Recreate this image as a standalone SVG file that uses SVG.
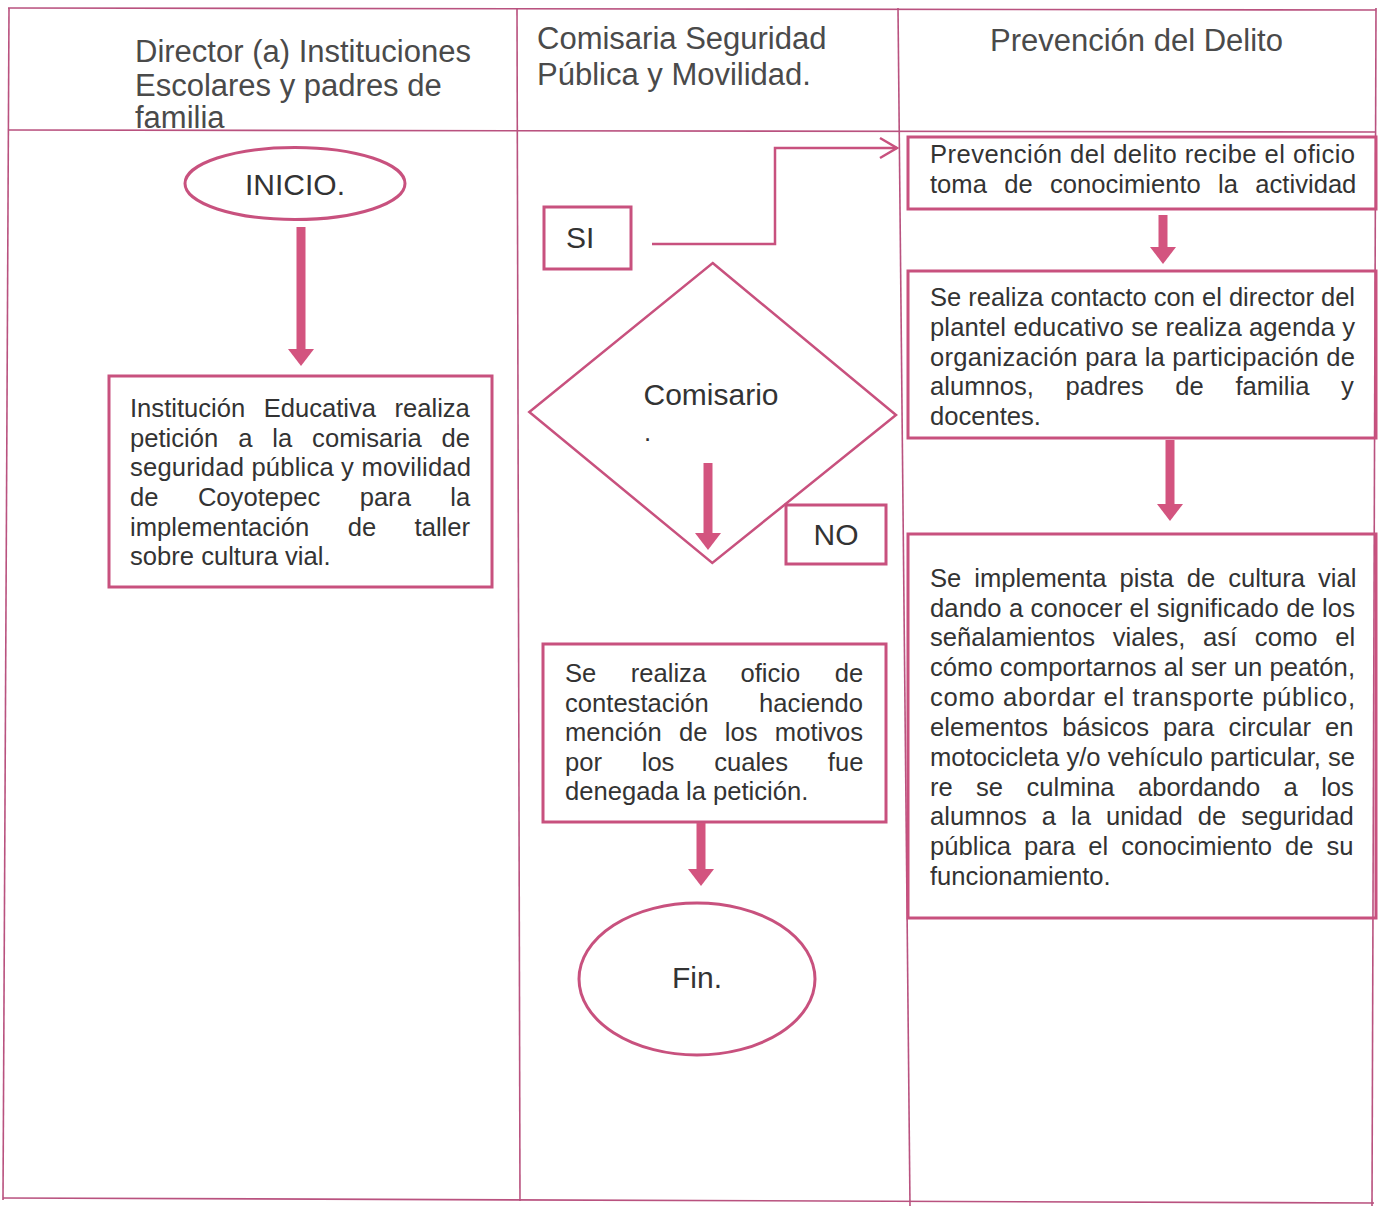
<svg xmlns="http://www.w3.org/2000/svg" width="1379" height="1211" viewBox="0 0 1379 1211">
<style>
.grid{stroke:#b9527f;stroke-width:1.6;fill:none}
.box{fill:none;stroke:#c8517e;stroke-width:3}
.thin{fill:none;stroke:#c8517e;stroke-width:2.5}
.thick{stroke:#d3547f;stroke-width:9;fill:none}
.hd{font-family:"Liberation Sans",Arial,sans-serif;font-size:31px;fill:#4a4a4a}
.t{font-family:"Liberation Sans",Arial,sans-serif;font-size:25.6px;fill:#333}
.lbl{font-family:"Liberation Sans",Arial,sans-serif;font-size:30px;fill:#333}
</style>
<defs>
<marker id="head" markerUnits="userSpaceOnUse" markerWidth="18" markerHeight="26" viewBox="0 0 18 26" refX="1" refY="13" orient="auto" overflow="visible">
<path d="M0,0 L17,13 L0,26 z" fill="#d3547f"/>
</marker>
<marker id="open" markerUnits="userSpaceOnUse" markerWidth="20" markerHeight="22" viewBox="0 0 20 22" refX="18" refY="11" orient="auto" overflow="visible">
<path d="M1,1 L18,11 L1,21" fill="none" stroke="#c8517e" stroke-width="2.5"/>
</marker>
</defs>
<rect x="0" y="0" width="1379" height="1211" fill="#ffffff"/>
<g id="table">
<line class="grid" x1="8" y1="8" x2="1376" y2="10"/>
<line class="grid" x1="8" y1="130" x2="1376" y2="132"/>
<line class="grid" x1="3" y1="1198" x2="1374" y2="1203"/>
<line class="grid" x1="9" y1="8" x2="3" y2="1200"/>
<line class="grid" x1="517" y1="8" x2="520" y2="1201"/>
<line class="grid" x1="898" y1="8" x2="910" y2="1206"/>
<line class="grid" x1="1376" y1="8" x2="1372" y2="1206"/>
</g>
<g id="headers">
<text class="hd" x="135" y="62">Director (a) Instituciones</text>
<text class="hd" x="135" y="96">Escolares y padres de</text>
<text class="hd" x="135" y="128">familia</text>
<text class="hd" x="537" y="49">Comisaria Seguridad</text>
<text class="hd" x="537" y="85">Pública y Movilidad.</text>
<text class="hd" x="990" y="51">Prevención del Delito</text>
</g>
<g id="inicio">
<ellipse class="box" cx="295" cy="183.5" rx="110" ry="36"/>
<text class="lbl" x="295" y="195" text-anchor="middle">INICIO.</text>
</g>
<g id="peticion">
<rect class="box" x="109" y="376" width="383" height="211"/>
<text class="t" x="130" y="417" word-spacing="11.3">Institución Educativa realiza</text>
<text class="t" x="130" y="446.7" word-spacing="12.8">petición a la comisaria de</text>
<text class="t" x="130" y="476.3" textLength="341" lengthAdjust="spacing">seguridad pública y movilidad</text>
<text class="t" x="130" y="506" word-spacing="32.3">de Coyotepec para la</text>
<text class="t" x="130" y="535.7" word-spacing="31.3">implementación de taller</text>
<text class="t" x="130" y="565.3">sobre cultura vial.</text>
</g>
<g id="si">
<rect class="box" x="544" y="207" width="87" height="62"/>
<text class="lbl" x="566" y="248" font-size="28">SI</text>
</g>
<g id="comisario">
<polygon class="thin" points="712.7,263 896,415 712.3,563 529.3,412"/>
<text class="lbl" x="711" y="405" text-anchor="middle">Comisario</text>
<text class="t" x="644" y="441" font-size="18">.</text>
</g>
<g id="no">
<rect class="box" x="786" y="505" width="100" height="59"/>
<text class="lbl" x="836" y="545" text-anchor="middle">NO</text>
</g>
<g id="oficio">
<rect class="box" x="543" y="644" width="343" height="178"/>
<text class="t" x="565" y="682" word-spacing="27.3">Se realiza oficio de</text>
<text class="t" x="565" y="711.5" word-spacing="43.3">contestación haciendo</text>
<text class="t" x="565" y="741" word-spacing="10.2">mención de los motivos</text>
<text class="t" x="565" y="770.5" word-spacing="32.6">por los cuales fue</text>
<text class="t" x="565" y="800">denegada la petición.</text>
</g>
<g id="fin">
<ellipse class="box" cx="697" cy="979" rx="118" ry="76"/>
<text class="lbl" x="697" y="988" text-anchor="middle" font-size="29">Fin.</text>
</g>
<g id="recibe">
<rect class="box" x="908" y="137" width="468" height="72"/>
<text class="t" x="930" y="163.3" textLength="425" lengthAdjust="spacing">Prevención del delito recibe el oficio</text>
<text class="t" x="930" y="192.7" word-spacing="10.2">toma de conocimiento la actividad</text>
</g>
<g id="contacto">
<rect class="box" x="908" y="271" width="468" height="167"/>
<text class="t" x="930" y="306" textLength="425" lengthAdjust="spacingAndGlyphs">Se realiza contacto con el director del</text>
<text class="t" x="930" y="335.75" textLength="425" lengthAdjust="spacing">plantel educativo se realiza agenda y</text>
<text class="t" x="930" y="365.5" textLength="425" lengthAdjust="spacing">organización para la participación de</text>
<text class="t" x="930" y="395.25" word-spacing="24.5">alumnos, padres de familia y</text>
<text class="t" x="930" y="425">docentes.</text>
</g>
<g id="pista">
<rect class="box" x="908" y="534" width="468" height="384"/>
<text class="t" x="930" y="586.7" word-spacing="5.9">Se implementa pista de cultura vial</text>
<text class="t" x="930" y="616.5" textLength="425" lengthAdjust="spacing">dando a conocer el significado de los</text>
<text class="t" x="930" y="646.4" word-spacing="10.6">señalamientos viales, así como el</text>
<text class="t" x="930" y="676.2" textLength="425" lengthAdjust="spacing">cómo comportarnos al ser un peatón,</text>
<text class="t" x="930" y="706" textLength="425" lengthAdjust="spacing">como abordar el transporte público,</text>
<text class="t" x="930" y="735.9" word-spacing="7">elementos básicos para circular en</text>
<text class="t" x="930" y="765.7" textLength="425" lengthAdjust="spacing">motocicleta y/o vehículo particular, se</text>
<text class="t" x="930" y="795.5" word-spacing="16.2">re se culmina abordando a los</text>
<text class="t" x="930" y="825.3" word-spacing="7.9">alumnos a la unidad de seguridad</text>
<text class="t" x="930" y="855.2" word-spacing="5.9">pública para el conocimiento de su</text>
<text class="t" x="930" y="885">funcionamiento.</text>
</g>
<g id="connectors">
<line class="thick" x1="301" y1="227" x2="301" y2="350" marker-end="url(#head)"/>
<line class="thick" x1="708" y1="463" x2="708" y2="534" marker-end="url(#head)"/>
<line class="thick" x1="701" y1="823" x2="701" y2="870" marker-end="url(#head)"/>
<line class="thick" x1="1163" y1="215" x2="1163" y2="248" marker-end="url(#head)"/>
<line class="thick" x1="1170" y1="440" x2="1170" y2="505" marker-end="url(#head)"/>
<polyline class="thin" points="652,244 775,244 775,148 897,148" marker-end="url(#open)"/>
</g>
</svg>
